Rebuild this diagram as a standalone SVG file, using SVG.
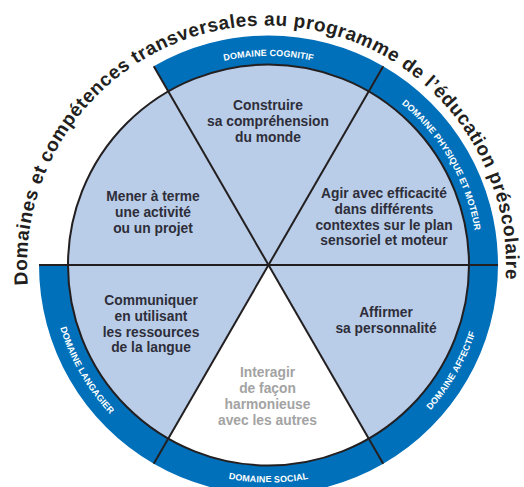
<svg xmlns="http://www.w3.org/2000/svg" width="524" height="487" viewBox="0 0 524 487">
<style>
.ring{fill:#0070BA;stroke:none}
.slice{fill:#B9CDE8;stroke:none}
.slice.white{fill:#FFFFFF}
.lbl{font-family:"Liberation Sans",Arial,sans-serif;font-weight:bold;font-size:13.8px;fill:#2E2E3A;text-anchor:middle}
.lbl.grey{fill:#A3A3A3}
.dom{font-family:"Liberation Sans",Arial,sans-serif;font-weight:bold;font-size:9px;fill:#FFFFFF;letter-spacing:0.1px;font-kerning:none}
.mid{text-anchor:middle}
.title{font-family:"Liberation Sans",Arial,sans-serif;font-weight:bold;font-size:19px;fill:#231F20;letter-spacing:0.55px;font-kerning:none}
.div{stroke:#231F20;stroke-width:2;fill:none}
</style>
<defs>
<path id="pTitle" d="M27.84 285 A239.5 239.5 0 1 1 505.65 277.95"/>
<path id="pCog" d="M164 84 A209 209 0 0 1 373 84"/>
<path id="pPhy" d="M373 84 A209 209 0 0 1 477.5 265"/>
<path id="pAff" d="M377.25 453.36 A217.5 217.5 0 0 0 486 265"/>
<path id="pSoc" d="M159.75 453.36 A217.5 217.5 0 0 0 377.25 453.36"/>
<path id="pLan" d="M51 265 A217.5 217.5 0 0 0 159.75 453.36"/>
</defs>
<rect width="524" height="487" fill="#FFFFFF"/>

<g id="title">
<text class="title"><textPath href="#pTitle" startOffset="0">Domaines</textPath></text>
<text class="title"><textPath href="#pTitle" startOffset="101.03">et</textPath></text>
<text class="title"><textPath href="#pTitle" startOffset="124.86">compétences</textPath></text>
<text class="title"><textPath href="#pTitle" startOffset="258.17">transversales</textPath></text>
<text class="title"><textPath href="#pTitle" startOffset="393.66">au</textPath></text>
<text class="title"><textPath href="#pTitle" startOffset="422.77">programme</textPath></text>
<text class="title"><textPath href="#pTitle" startOffset="538.07">de</textPath></text>
<text class="title"><textPath href="#pTitle" startOffset="567.17">l’éducation</textPath></text>
<text class="title"><textPath href="#pTitle" startOffset="679.36">préscolaire</textPath></text>
</g>

<g id="domaine-cognitif">
<path class="ring" d="M153.75 66.25 A229.5 229.5 0 0 1 383.25 66.25 L368.75 91.37 A200.5 200.5 0 0 0 168.25 91.37 Z"/>
<text class="dom mid"><textPath href="#pCog" startOffset="50%">DOMAINE COGNITIF</textPath></text>
</g>
<g id="domaine-physique">
<path class="ring" d="M383.25 66.25 A229.5 229.5 0 0 1 498 265 L469 265 A200.5 200.5 0 0 0 368.75 91.37 Z"/>
<text class="dom"><textPath href="#pPhy" startOffset="34.63">DOMAINE</textPath></text>
<text class="dom"><textPath href="#pPhy" startOffset="80.43">PHYSIQUE</textPath></text>
<text class="dom"><textPath href="#pPhy" startOffset="130.34">ET</textPath></text>
<text class="dom"><textPath href="#pPhy" startOffset="144.64">MOTEUR</textPath></text>
</g>
<g id="domaine-affectif">
<path class="ring" d="M498 265 A229.5 229.5 0 0 1 383.25 463.75 L368.75 438.63 A200.5 200.5 0 0 0 469 265 Z"/>
<text class="dom"><textPath href="#pAff" startOffset="68.83">DOMAINE</textPath></text>
<text class="dom"><textPath href="#pAff" startOffset="114.63">AFFECTIF</textPath></text>
</g>
<g id="domaine-social">
<path class="ring" d="M383.25 463.75 A229.5 229.5 0 0 1 153.75 463.75 L168.25 438.63 A200.5 200.5 0 0 0 368.75 438.63 Z"/>
<text class="dom mid"><textPath href="#pSoc" startOffset="50%">DOMAINE SOCIAL</textPath></text>
</g>
<g id="domaine-langagier">
<path class="ring" d="M153.75 463.75 A229.5 229.5 0 0 1 39 265 L68 265 A200.5 200.5 0 0 0 168.25 438.63 Z"/>
<text class="dom"><textPath href="#pLan" startOffset="63.53">DOMAINE</textPath></text>
<text class="dom"><textPath href="#pLan" startOffset="109.33">LANGAGIER</textPath></text>
</g>

<g id="construire">
<path class="slice" d="M268.5 265 L168.25 91.37 A200.5 200.5 0 0 1 368.75 91.37 Z"/>
<text class="lbl" x="268" y="109.5">Construire</text>
<text class="lbl" x="268" y="125.8">sa compréhension</text>
<text class="lbl" x="268" y="142">du monde</text>
</g>
<g id="agir">
<path class="slice" d="M268.5 265 L368.75 91.37 A200.5 200.5 0 0 1 469 265 Z"/>
<text class="lbl" x="384" y="197.5">Agir avec efficacité</text>
<text class="lbl" x="384" y="213.5">dans différents</text>
<text class="lbl" x="384" y="229.5">contextes sur le plan</text>
<text class="lbl" x="384" y="245.3">sensoriel et moteur</text>
</g>
<g id="affirmer">
<path class="slice" d="M268.5 265 L469 265 A200.5 200.5 0 0 1 368.75 438.63 Z"/>
<text class="lbl" x="386" y="316.5">Affirmer</text>
<text class="lbl" x="386" y="332.5">sa personnalité</text>
</g>
<g id="interagir">
<path class="slice white" d="M268.5 265 L368.75 438.63 A200.5 200.5 0 0 1 168.25 438.63 Z"/>
<text class="lbl grey" x="267.5" y="376.5">Interagir</text>
<text class="lbl grey" x="267.5" y="392.5">de façon</text>
<text class="lbl grey" x="267.5" y="409">harmonieuse</text>
<text class="lbl grey" x="267.5" y="425">avec les autres</text>
</g>
<g id="communiquer">
<path class="slice" d="M268.5 265 L168.25 438.63 A200.5 200.5 0 0 1 68 265 Z"/>
<text class="lbl" x="151" y="304.5">Communiquer</text>
<text class="lbl" x="151" y="320.5">en utilisant</text>
<text class="lbl" x="151" y="336.5">les ressources</text>
<text class="lbl" x="151" y="352">de la langue</text>
</g>
<g id="mener">
<path class="slice" d="M268.5 265 L68 265 A200.5 200.5 0 0 1 168.25 91.37 Z"/>
<text class="lbl" x="153" y="201">Mener à terme</text>
<text class="lbl" x="153" y="217">une activité</text>
<text class="lbl" x="153" y="232.5">ou un projet</text>
</g>

<g id="connectors">
<circle class="div" cx="268.5" cy="265" r="200.5"/>
<line class="div" x1="39" y1="265" x2="498" y2="265"/>
<line class="div" x1="383.25" y1="66.25" x2="153.75" y2="463.75"/>
<line class="div" x1="153.75" y1="66.25" x2="383.25" y2="463.75"/>
</g>
</svg>
